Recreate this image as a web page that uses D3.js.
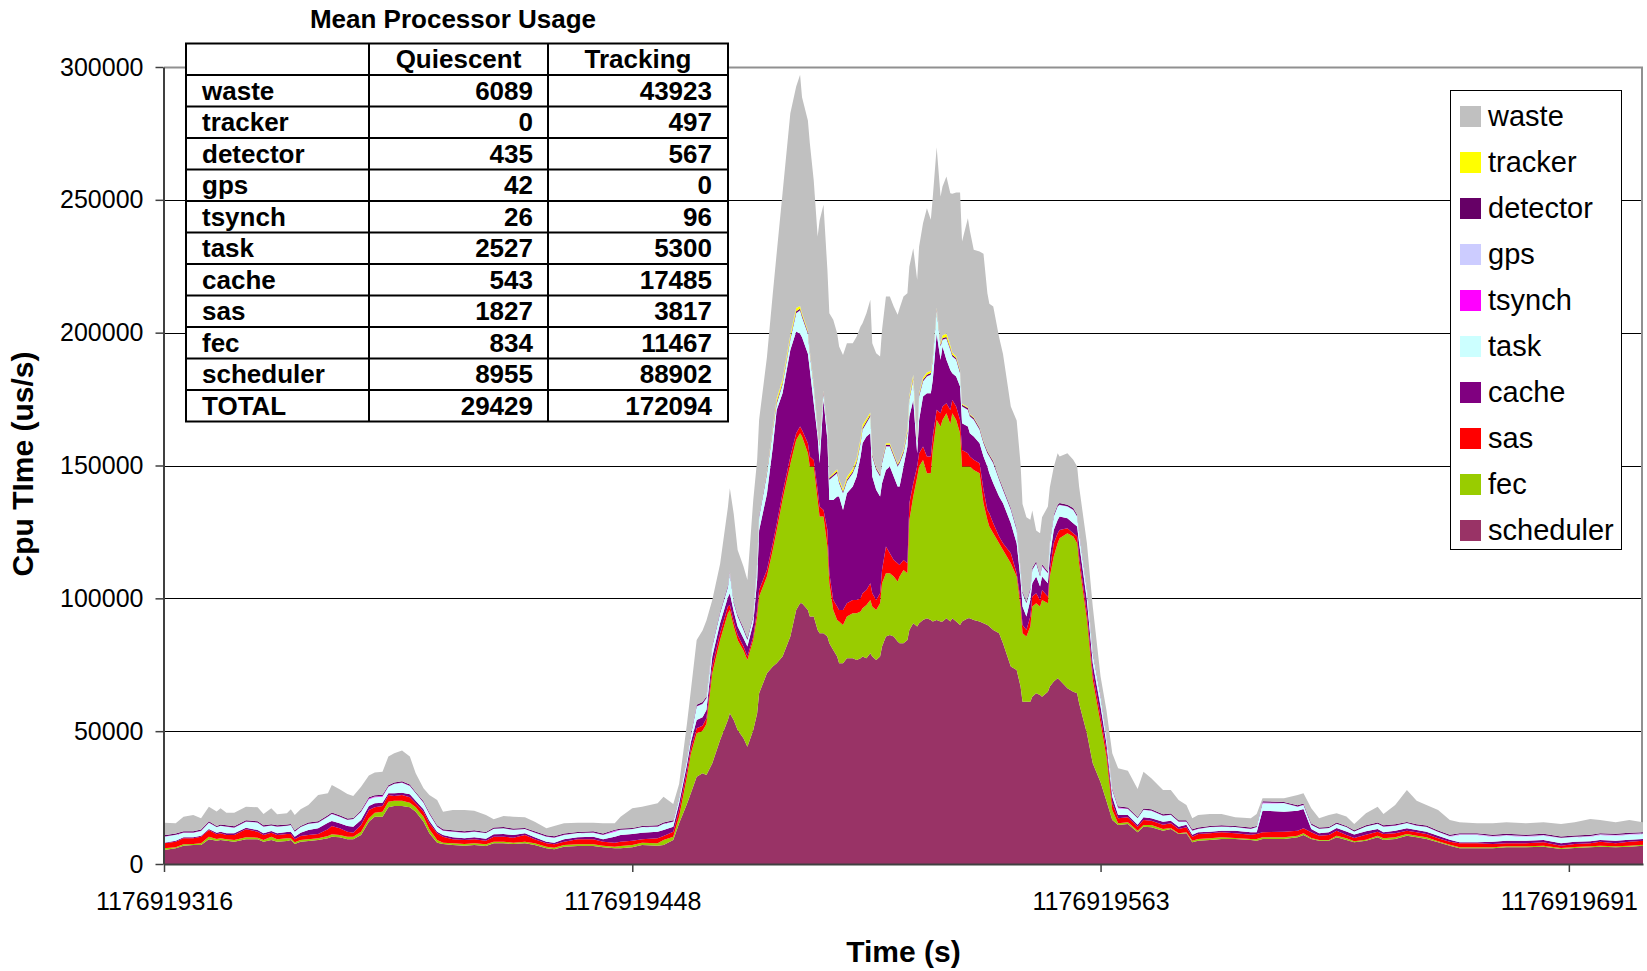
<!DOCTYPE html>
<html>
<head>
<meta charset="utf-8">
<script src="https://cdn.jsdelivr.net/npm/d3@7"></script>
<style>
  body { margin: 0; background: #fff; }
  svg { display: block; font-family: "Liberation Sans", Arial, sans-serif; }
</style>
</head>
<body>
<svg id="chart" width="1647" height="971"></svg>
<script>
// category axis: sample position (category index) and the labelled categories
const tickIndex = [0, 240, 480, 720];
const tickLabels = ["1176919316", "1176919448", "1176919563", "1176919691"];

const sampleIndex = [
  0,6,10,15,19,23,27,29,32,36,42,48,51,55,58,63,65,67,70,74,79,84,86,90,94,97,101,105,108,112,
  115,118,122,126,129,133,136,140,143,148,154,159,165,169,174,179,185,190,196,200,205,212,220,225,231,234,240,245,253,256,261,
  264,268,270,273,276,278,281,285,289,290,292,294,297,299,302,304,305,309,312,314,317,321,324,326,327,330,331,333,335,336,
  338,340,341,343,345,346,348,350,353,355,357,358,360,362,363,365,367,368,370,372,374,376,377,379,381,382,384,386,387,389,
  391,393,394,396,398,399,401,403,404,406,408,409,412,413,415,418,420,422,423,425,428,430,434,437,439,440,442,444,445,447,
  449,450,453,454,456,458,459,463,466,468,469,473,476,480,483,486,
  489,494,499,502,506,512,516,520,524,527,530,536,542,549,557,560,563,574,581,584,588,592,597,601,606,610,616,622,625,631,
  637,642,647,653,659,664,673,681,688,698,707,716,723,731,736,744,751,758
];

const scheduler = [
  5270,5900,6900,7150,7150,9290,8790,9040,8790,8410,
  9290,9290,8410,9040,8410,8660,9040,7530,8410,8660,
  9040,9660,10290,10040,9290,9290,10920,15940,17820,17820,
  21340,21840,21840,21340,19700,15940,11550,8030,7530,7150,
  6900,7150,6780,7780,7780,7530,7780,7150,5900,5520,
  6530,6780,6780,6280,5900,5900,6280,7150,6900,7150,
  9040,
  15310,22590,26610,32880,34140,33510,37900,46690,54220,56730,
  54220,50450,47310,44180,50450,56730,64260,71790,74300,75550,
  78060,85590,95630,98140,98140,95630,93120,93120,88100,86850,
  86850,85590,83080,80570,78060,75550,75550,77430,77430,76810,
  77430,78060,77430,79320,78060,76810,78060,81830,85590,86220,
  85590,83710,83080,83080,84340,88100,90610,89360,90610,91870,
  92490,91870,91240,91870,91240,91240,92490,91240,92490,91240,
  89980,91240,92490,92490,91870,91240,90610,89980,89360,88100,
  86850,83080,74300,73040,66770,61120,61120,61120,63000,64260,
  63630,63000,64880,66770,68650,69900,69280,66140,64880,64260,
  60490,49200,37900,30750,23850,16570,
  14680,15060,11920,14060,13810,12550,13180,11300,11550,8160,
  8790,9040,9410,9410,9040,8790,9410,9410,10040,10920,
  9410,8790,8790,10040,9040,8160,8790,10040,9040,9410,
  10670,10040,9410,8160,6900,5900,5900,5900,6280,6280,
  6530,5650,6020,6280,6530,6280,6530,6900
];

const fec = [
  630,380,500,380,630,1000,630,630,500,630,
  750,630,630,1260,880,1000,630,630,630,630,
  630,880,880,880,1000,1000,1260,1260,1510,1880,
  2130,2010,2010,1760,1630,1880,1510,1000,500,630,
  630,630,630,630,630,500,630,630,630,630,
  630,630,630,630,630,880,880,880,880,1880,
  1260,
  2510,10040,14810,16320,16060,19200,33890,37650,40160,38910,
  35140,33890,33010,32630,33890,36400,36400,36400,43930,49950,
  58990,65010,64010,64010,62750,58990,56480,56480,48950,43930,
  43930,33890,22590,15060,13810,15690,14430,15690,16940,17570,
  17570,18200,20080,20080,18830,18830,20080,23850,23850,23220,
  22590,22590,25100,27610,25100,41420,47690,56220,58990,60240,
  54590,55220,64630,75300,73420,75930,77180,74420,77180,75930,
  72160,58360,57100,57100,56480,55850,45180,39530,37650,36400,
  33890,35140,38910,35140,30120,25730,24470,28240,33890,33890,
  33260,36400,33260,41420,47060,50830,53340,58360,58360,56480,
  52710,42670,31380,22210,16570,3770,
  630,630,630,630,880,630,380,250,380,630,
  630,630,630,380,380,630,630,630,630,630,
  380,250,250,630,630,380,380,630,630,630,
  630,630,630,380,380,380,380,380,380,380,
  380,380,380,380,380,380,380,380
];

const sas = [
  1880,2130,2260,2130,2510,2510,1760,1880,1630,1880,
  3010,2260,1880,1510,1630,1630,1630,1130,1510,1630,
  1630,2510,3140,2510,1880,1510,2510,3140,2010,2130,
  2510,1760,2130,2010,1510,1880,2260,2510,2260,1510,
  1510,1510,1380,1880,1880,1880,2510,1510,1260,1260,
  1260,1880,1880,1510,1510,1630,1630,1260,1880,1510,
  1880,
  2510,2260,1880,1880,1880,2130,2510,2510,2510,1880,
  1880,1880,1510,1260,1260,2510,2510,2510,2510,2510,
  2510,2760,2510,2510,2510,3770,3770,2510,3770,3770,
  2510,6280,3770,3770,5020,4390,5650,5020,5020,5020,
  5020,5650,5650,6280,5020,3770,3770,5020,10040,7530,
  6280,6900,4390,3770,3770,6280,5020,4020,5020,5020,
  6280,6280,5020,3770,5020,5020,3770,5270,5020,5020,
  5020,6280,5020,3770,3770,3770,5020,3770,5020,3770,
  2510,2510,3770,1260,2510,3140,2510,3770,3770,3770,
  2510,3770,2510,2510,5020,3770,3140,1880,1260,2510,
  2510,2510,2510,2510,2510,2510,
  1880,1880,1510,1880,1630,1630,1760,1630,1880,1510,
  1880,1880,1880,1760,1630,1880,1880,2130,1880,1880,
  2130,1630,1880,1880,1260,1260,1880,1510,1630,1510,
  1260,1260,1260,1130,1130,1510,1510,1260,1130,1130,
  1260,880,1130,1130,1510,1130,1510,1510
];

const cache = [
  250,380,380,380,380,380,630,630,630,630,
  630,630,630,630,630,750,880,1000,1260,1880,
  2130,2510,1880,1880,2130,2260,1880,1510,1510,1260,
  630,1000,880,1130,1000,880,1000,630,630,750,
  630,750,750,880,1000,1000,630,750,630,630,
  880,750,1000,880,2260,2510,2510,2510,2510,2260,
  1880,
  2510,2510,2510,3140,3140,3140,3770,3770,3510,4390,
  3770,3140,3140,3770,5020,11300,22340,28610,36140,42920,
  37650,40160,38280,34890,34890,33630,32630,21340,20080,16320,
  41420,33890,27610,37650,41420,42670,37650,41420,42670,46440,
  53340,56480,57730,56480,43930,41420,36400,32630,28870,32630,
  31380,28870,29490,35140,43930,32630,31380,5020,12550,18830,
  23850,23850,21340,28610,20080,22590,16320,15060,10040,11300,
  12550,10040,10040,8790,8790,7530,12550,16320,15060,15060,
  15060,15060,11300,11300,7530,6900,5020,6280,5020,6280,
  5020,5020,5020,5020,5020,5020,5020,3770,3770,3770,
  5020,5020,3770,3770,2510,2510,
  1260,880,750,1000,880,1130,1000,880,1000,750,
  630,630,630,1000,880,630,8160,7530,7530,7280,
  1260,880,1000,1000,1260,1260,1260,1000,630,1000,
  880,880,880,1000,750,380,380,880,1000,1000,
  880,880,880,750,630,1000,750,630
];

const task = [
  2260,2130,1760,1760,1760,2380,2010,2130,2510,2130,
  2260,2760,2510,2010,2510,2260,2380,1880,2010,2260,
  2130,2260,2640,2510,2260,2760,3140,2510,2260,2260,
  2510,3510,3770,3140,2760,2510,2510,1880,1630,2130,
  2130,2130,2010,2010,2130,1880,1510,1760,1880,1880,
  1630,1510,1510,1630,1880,1880,1760,2010,1880,2260,
  1880,
  1880,2130,2510,5020,5020,4390,3770,3770,3770,7530,
  3140,3770,3140,2510,2510,6020,5020,7530,6280,2260,
  3140,3770,6900,8790,7530,7530,6020,6280,2510,6280,
  2510,3770,7530,8790,8790,5020,6280,4390,5020,5020,
  5020,5020,5020,6280,7530,7530,7530,7530,8790,7530,
  7530,7530,8790,5020,5020,6280,7530,3770,8790,5650,
  6280,6900,7530,8790,5020,2510,7910,7530,6280,6280,
  5020,6280,6280,6280,6280,5020,5020,5020,6280,7530,
  6280,5020,5020,5020,3770,5020,5020,3770,5020,5020,
  3770,3770,3770,5020,5020,5020,4390,4390,5020,3770,
  3770,3770,3770,3770,2510,2510,
  2510,2260,2380,2760,2890,2260,2130,1880,1130,1510,
  1260,1630,1510,1260,1260,1880,2760,3140,1510,1510,
  1510,1630,1510,1510,1630,1130,1760,1880,2130,1880,
  1880,1630,1630,1260,1130,2760,2760,1880,1880,1510,
  1630,1880,1630,1760,1880,1880,1880,1880
];

const tsynch = [
  40,40,40,40,40,40,40,40,40,40,
  40,40,40,40,40,40,40,40,40,40,
  40,40,40,40,40,40,40,250,250,250,
  40,40,40,40,40,40,40,40,40,40,
  40,40,40,40,40,40,40,40,40,40,
  40,40,40,40,250,40,40,40,40,40,
  40,
  40,40,100,100,100,100,100,100,100,100,
  100,100,100,100,100,100,100,100,100,100,
  100,100,100,100,100,100,100,100,100,100,
  100,100,100,100,100,100,100,100,100,100,
  100,100,100,100,100,100,100,100,100,100,
  100,100,100,100,100,100,100,100,100,100,
  100,100,100,100,100,100,100,100,100,100,
  100,100,100,100,100,100,100,100,100,100,
  100,100,100,100,100,100,100,100,100,100,
  100,300,100,100,100,100,100,100,100,100,
  100,100,100,100,100,40,
  250,40,40,40,40,40,40,40,40,40,
  40,40,40,40,40,40,250,40,40,40,
  40,40,40,40,40,40,40,40,40,40,
  40,40,40,40,40,40,40,40,40,40,
  40,40,40,40,40,40,40,40
];

const gps = [
  40,40,40,40,40,40,40,40,40,40,
  40,40,40,40,40,40,40,40,40,40,
  40,40,40,40,40,40,40,40,40,40,
  40,40,40,40,40,40,40,40,40,40,
  40,40,40,40,40,40,40,40,40,40,
  40,40,40,40,40,40,40,40,40,40,
  40,
  40,40,0,0,0,0,0,0,0,0,
  0,0,0,0,0,0,0,0,0,0,
  0,0,0,0,0,0,0,0,0,0,
  0,0,0,0,0,0,0,0,0,0,
  0,0,0,0,0,0,0,0,0,0,
  0,0,0,0,0,0,0,0,0,0,
  0,0,0,0,0,0,0,0,0,0,
  0,0,0,0,0,0,0,0,0,0,
  0,0,0,0,0,0,0,0,0,0,
  0,0,0,0,0,0,0,0,0,0,
  0,0,0,0,0,40,
  40,40,40,40,40,40,40,40,40,40,
  40,40,40,40,40,40,40,40,40,40,
  40,40,40,40,40,40,40,40,40,40,
  40,40,200,200,200,200,200,200,200,200,
  200,200,200,200,200,200,200,200
];

const detector = [
  450,450,450,450,450,450,450,450,450,450,
  450,450,450,450,450,450,450,450,450,450,
  450,450,450,450,450,450,450,450,450,450,
  450,450,450,450,450,450,450,450,450,450,
  450,450,450,450,450,450,450,450,450,450,
  450,450,450,450,450,450,450,450,450,450,
  450,
  450,450,600,600,600,600,600,600,600,600,
  600,600,600,600,600,600,600,600,600,600,
  600,600,600,600,600,600,600,600,600,600,
  600,600,600,600,600,600,600,600,600,600,
  600,600,600,600,600,600,600,600,600,600,
  600,600,600,600,600,600,600,600,600,600,
  600,600,600,600,600,600,600,600,600,600,
  600,600,600,600,600,600,600,600,600,600,
  600,600,600,600,600,600,600,600,600,600,
  600,600,600,600,600,600,600,600,600,600,
  600,600,600,600,600,450,
  450,450,450,450,450,450,450,450,450,450,
  450,450,450,450,450,450,450,450,450,450,
  450,450,450,450,450,450,450,450,450,450,
  450,450,450,450,450,450,450,450,450,450,
  450,450,450,450,450,450,450,450
];

const tracker = [
  0,0,0,0,0,0,0,0,0,0,
  0,0,0,0,0,0,0,0,0,0,
  0,0,0,0,0,0,0,0,0,0,
  0,0,0,0,0,0,0,0,0,0,
  0,0,0,0,0,0,0,0,0,0,
  0,0,0,0,0,0,0,0,0,0,
  0,
  0,0,0,0,0,0,0,0,0,0,
  0,0,0,0,0,0,0,380,630,1260,
  1260,1260,1260,1000,800,600,500,500,300,300,
  300,300,300,500,800,800,800,1000,1000,1200,
  1200,1200,1000,800,300,300,300,300,500,500,
  500,500,500,800,1000,1000,1200,500,500,800,
  800,800,500,300,500,1000,1260,1000,800,600,
  500,300,300,300,300,200,200,200,200,200,
  100,100,0,0,0,0,0,0,0,0,
  0,0,0,0,0,0,0,0,0,0,
  0,0,0,0,0,0,
  0,0,0,0,0,0,0,0,0,0,
  0,0,0,0,0,0,0,0,0,0,
  0,0,0,0,0,0,0,0,0,0,
  0,0,0,0,0,0,0,0,0,0,
  0,0,0,0,0,0,0,0
];

const waste = [
  4740,3860,5490,6120,4240,5490,5370,6120,4740,5120,
  5120,5240,4240,6000,4110,4240,5490,5750,6250,6620,
  9890,8260,10390,9760,9260,8260,8880,8170,8550,8670,
  10770,11020,11520,10510,7000,4870,6620,9510,6620,7630,
  8000,7380,6370,3110,4110,4490,3990,3610,2610,3860,
  3860,3490,3240,3860,2400,4490,7380,7250,8260,9760,
  6120,
  4870,12650,16240,24400,26910,28540,16870,17870,29420,31300,
  32930,24400,23150,21890,43230,38460,35950,42850,50130,54770,
  70200,83380,83380,87030,81330,79020,78120,76360,71790,84090,
  69910,59240,61750,57790,51210,49960,50580,50380,47250,45790,
  42030,38260,39720,42430,41670,42930,44180,49200,55280,55280,
  55280,55900,57160,57490,51010,48500,47670,60300,55280,58110,
  61880,56860,60040,60500,55280,56030,59160,57290,59740,61700,
  66820,61120,71160,69030,63010,66240,70380,59340,56580,58090,
  52910,50400,38210,40460,39210,32930,31680,25660,21640,11600,
  15620,17670,24400,20380,17870,19380,17500,19380,18130,18130,
  16870,16870,16870,6830,9340,13280,
  14320,13900,10510,13900,11640,9130,8880,7630,5750,4110,
  4740,4490,4240,3240,3490,4490,1140,1350,3860,3860,
  5750,3490,4490,3490,3490,2360,4490,6000,4240,7250,
  12020,8880,7720,7720,5590,4080,3700,4330,4330,4330,
  4330,4710,4960,5960,4960,4330,4830,3700
];

// inset table "Mean Processor Usage"
const tableTitle = "Mean Processor Usage";
const tableColumns = ["Quiescent", "Tracking"];
const tableRows = ["waste","tracker","detector","gps","tsynch","task","cache","sas","fec","scheduler","TOTAL"];
const quiescent = [6089, 0, 435, 42, 26, 2527, 543, 1827, 834, 8955, 29429];
const tracking = [43923, 497, 567, 0, 96, 5300, 17485, 3817, 11467, 88902, 172094];

const yTicks = [0, 50000, 100000, 150000, 200000, 250000, 300000];

// stacking order, bottom first
const keys = ["scheduler","fec","sas","cache","task","tsynch","gps","detector","tracker","waste"];
const series = { scheduler, fec, sas, cache, task, tsynch, gps, detector, tracker, waste };
const colors = {
  waste: "#c0c0c0", tracker: "#ffff00", detector: "#660066", gps: "#ccccff", tsynch: "#ff00ff",
  task: "#ccffff", cache: "#800080", sas: "#ff0000", fec: "#99cc00", scheduler: "#993366"
};
const legendOrder = ["waste","tracker","detector","gps","tsynch","task","cache","sas","fec","scheduler"];

const svg = d3.select("#chart");
const plot = { left: 164, right: 1643, top: 67, bottom: 864 };

const x = d3.scaleLinear().domain([0, 758]).range([plot.left, plot.right]);
const y = d3.scaleLinear().domain([0, 300000]).range([plot.bottom, plot.top]);

const rows = sampleIndex.map((t, i) => {
  const r = { t };
  keys.forEach(k => r[k] = series[k][i]);
  return r;
});
const stacked = d3.stack().keys(keys)(rows);

svg.append("rect").attr("width", 1647).attr("height", 971).attr("fill", "#fff");

// gridlines
svg.append("g")
  .selectAll("line")
  .data(yTicks.filter(d => d > 0 && d < 300000))
  .join("line")
  .attr("x1", plot.left).attr("x2", plot.right - 1)
  .attr("y1", d => Math.round(y(d)) + 0.5).attr("y2", d => Math.round(y(d)) + 0.5)
  .attr("stroke", "#000").attr("stroke-width", 1);

// plot frame (top and right)
svg.append("path")
  .attr("d", `M${plot.left},${plot.top + 0.5}H${plot.right - 1}V${plot.bottom}`)
  .attr("fill", "none").attr("stroke", "#909090").attr("stroke-width", 2);

// stacked areas
const area = d3.area()
  .x(d => x(d.data.t))
  .y0(d => y(d[0]))
  .y1(d => y(d[1]));

svg.append("g")
  .selectAll("path")
  .data(stacked)
  .join("path")
  .attr("fill", d => colors[d.key])
  .attr("d", area);

// axes
const xAxis = d3.axisBottom(x)
  .tickValues(tickIndex)
  .tickFormat((d, i) => tickLabels[i])
  .tickSize(8).tickPadding(21).tickSizeOuter(0);

const gx = svg.append("g")
  .attr("transform", `translate(0,${plot.bottom})`)
  .call(xAxis);
gx.select(".domain").attr("stroke", "#404040").attr("stroke-width", 2);
gx.selectAll(".tick line").attr("stroke", "#404040").attr("stroke-width", 1.5);
gx.selectAll(".tick text")
  .attr("y", 46).attr("dy", null)
  .attr("font-size", 25).attr("fill", "#000")
  .attr("font-family", "'Liberation Sans', Arial, sans-serif");

const yAxis = d3.axisLeft(y)
  .tickValues(yTicks)
  .tickFormat(d3.format("d"))
  .tickSize(8).tickPadding(12).tickSizeOuter(0);

const gy = svg.append("g")
  .attr("transform", `translate(${plot.left - 0.5},0)`)
  .call(yAxis);
gy.select(".domain").attr("stroke", "#404040").attr("stroke-width", 2);
gy.selectAll(".tick line").attr("stroke", "#404040").attr("stroke-width", 1.5);
gy.selectAll(".tick text").attr("font-size", 25).attr("fill", "#000")
  .attr("font-family", "'Liberation Sans', Arial, sans-serif");

// axis titles
svg.append("text")
  .attr("transform", "translate(33,464) rotate(-90)")
  .attr("text-anchor", "middle")
  .attr("font-size", 30).attr("font-weight", "bold")
  .text("Cpu TIme (us/s)");

svg.append("text")
  .attr("x", (plot.left + plot.right) / 2).attr("y", 962)
  .attr("text-anchor", "middle")
  .attr("font-size", 30).attr("font-weight", "bold")
  .text("Time (s)");

// inset table
const colX = [186, 369, 548, 728];
const rowY0 = 43.5, rowH = 31.5;
const nRows = tableRows.length + 1;
const tg = svg.append("g").attr("font-size", 26).attr("font-weight", "bold");

tg.append("text")
  .attr("x", 453).attr("y", 28)
  .attr("text-anchor", "middle")
  .text(tableTitle);

tg.append("rect")
  .attr("x", colX[0]).attr("y", rowY0)
  .attr("width", colX[3] - colX[0]).attr("height", nRows * rowH)
  .attr("fill", "#fff");

tg.selectAll("line.h")
  .data(d3.range(nRows + 1))
  .join("line")
  .attr("x1", colX[0] - 1).attr("x2", colX[3] + 1)
  .attr("y1", i => rowY0 + i * rowH).attr("y2", i => rowY0 + i * rowH)
  .attr("stroke", "#000").attr("stroke-width", 2);

tg.selectAll("line.v")
  .data(colX)
  .join("line")
  .attr("x1", d => d).attr("x2", d => d)
  .attr("y1", rowY0).attr("y2", rowY0 + nRows * rowH)
  .attr("stroke", "#000").attr("stroke-width", 2);

tableColumns.forEach((c, j) => {
  tg.append("text")
    .attr("x", (colX[j + 1] + colX[j + 2]) / 2).attr("y", rowY0 + rowH - 7)
    .attr("text-anchor", "middle")
    .text(c);
});

tableRows.forEach((name, i) => {
  const by = rowY0 + (i + 2) * rowH - 7;
  tg.append("text").attr("x", 202).attr("y", by).text(name);
  tg.append("text").attr("x", colX[2] - 15).attr("y", by).attr("text-anchor", "end").text(quiescent[i]);
  tg.append("text").attr("x", colX[3] - 16).attr("y", by).attr("text-anchor", "end").text(tracking[i]);
});

// legend
const lg = svg.append("g");
lg.append("rect")
  .attr("x", 1450.5).attr("y", 90.5).attr("width", 171).attr("height", 459)
  .attr("fill", "#fff").attr("stroke", "#000").attr("stroke-width", 1);

const item = lg.selectAll("g.item")
  .data(legendOrder)
  .join("g")
  .attr("transform", (d, i) => `translate(1460,${106 + i * 46})`);

item.append("rect")
  .attr("width", 21).attr("height", 21)
  .attr("fill", d => colors[d]);

item.append("text")
  .attr("x", 28).attr("y", 20)
  .attr("font-size", 29)
  .text(d => d);
</script>
</body>
</html>
